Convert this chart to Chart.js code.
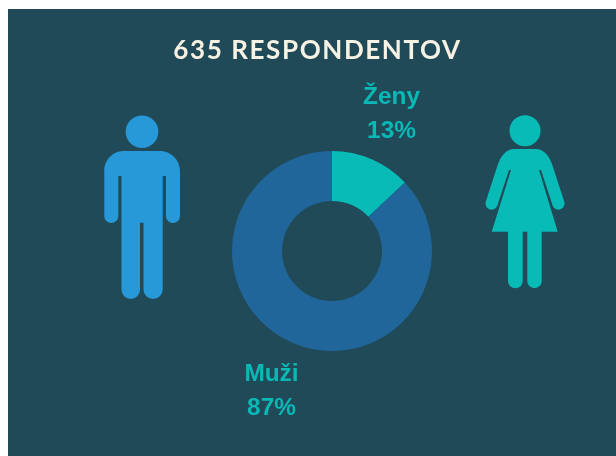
<!DOCTYPE html>
<html><head><meta charset="utf-8">
<style>
html,body{margin:0;padding:0;background:#fff;width:616px;height:456px;overflow:hidden}
#wrap{position:absolute;left:8px;top:9px;width:608px;height:447px;background:#214a58}
canvas{position:absolute;left:0;top:0}
svg{position:absolute;left:-8px;top:-9px}
</style>
<script src="https://cdn.jsdelivr.net/npm/chart.js@4"></script>
</head><body>
<div id="wrap">
<canvas id="c" width="608" height="447"></canvas>
<svg width="616" height="456" viewBox="0 0 616 456">
<g fill="#2899d8">
<circle cx="142" cy="131.7" r="16.3"/>
<path d="M124 151H160C171 151 180 160 180 171V216A7 7 0 0 1 166 216V176H162.7V289.4A9.6 9.6 0 0 1 143.5 289.4V222.7H140V289.7A9.25 9.25 0 0 1 121.5 289.7V176H118.3V216A7 7 0 0 1 104.3 216V171C104 160 113 151 124 151Z"/>
</g>
<g fill="#08bbb7">
<circle cx="525" cy="130.7" r="15.5"/>
<path d="M514 149H536C544 149 549 156 552 164L564 201A6 6 0 0 1 552.8 206L541 170H539L557.7 231.7H541.7V281A7.2 7.2 0 0 1 527.3 281V231.7H522.7V281A7.35 7.35 0 0 1 508 281V231.7H491.7L511 170H509L497.2 206A6 6 0 0 1 486 201L498 164C501 156 506 149 514 149Z"/>
</g>
</svg>
</div>
<script>
const titleText = "635 RESPONDENTOV";
const categories = ["Ženy", "Muži"];
const shares = [13, 87];
const sliceColors = ["#08bbb7", "#20669a"];

const textPlugin = {
  id: "texts",
  afterDraw(chart) {
    const ctx = chart.ctx;
    ctx.save();
    ctx.textAlign = "center";
    ctx.textBaseline = "alphabetic";
    ctx.fillStyle = "#f6f2e4";
    ctx.font = "bold 26px Lato";
    ctx.letterSpacing = "1.6px";
    ctx.fillText(titleText, 309.5, 50);
    ctx.letterSpacing = "0px";
    ctx.fillStyle = "#0ab8b6";
    ctx.font = "bold 24.4px 'Liberation Sans'";
    const spots = [[383.5, 95, 129], [263.5, 372, 406]];
    categories.forEach((name, i) => {
      const [x, y1, y2] = spots[i];
      ctx.fillText(name, x, y1);
      ctx.fillText(shares[i] + "%", x, y2);
    });
    ctx.restore();
  }
};

new Chart(document.getElementById("c"), {
  type: "doughnut",
  data: {
    labels: categories,
    datasets: [{ data: shares, backgroundColor: sliceColors, borderWidth: 0 }]
  },
  options: {
    responsive: false,
    animation: false,
    cutout: "50%",
    layout: { padding: { left: 224, right: 184, top: 142, bottom: 105 } },
    plugins: { legend: { display: false }, tooltip: { enabled: false }, title: { display: false } }
  },
  plugins: [textPlugin]
});
</script>
</body></html>
